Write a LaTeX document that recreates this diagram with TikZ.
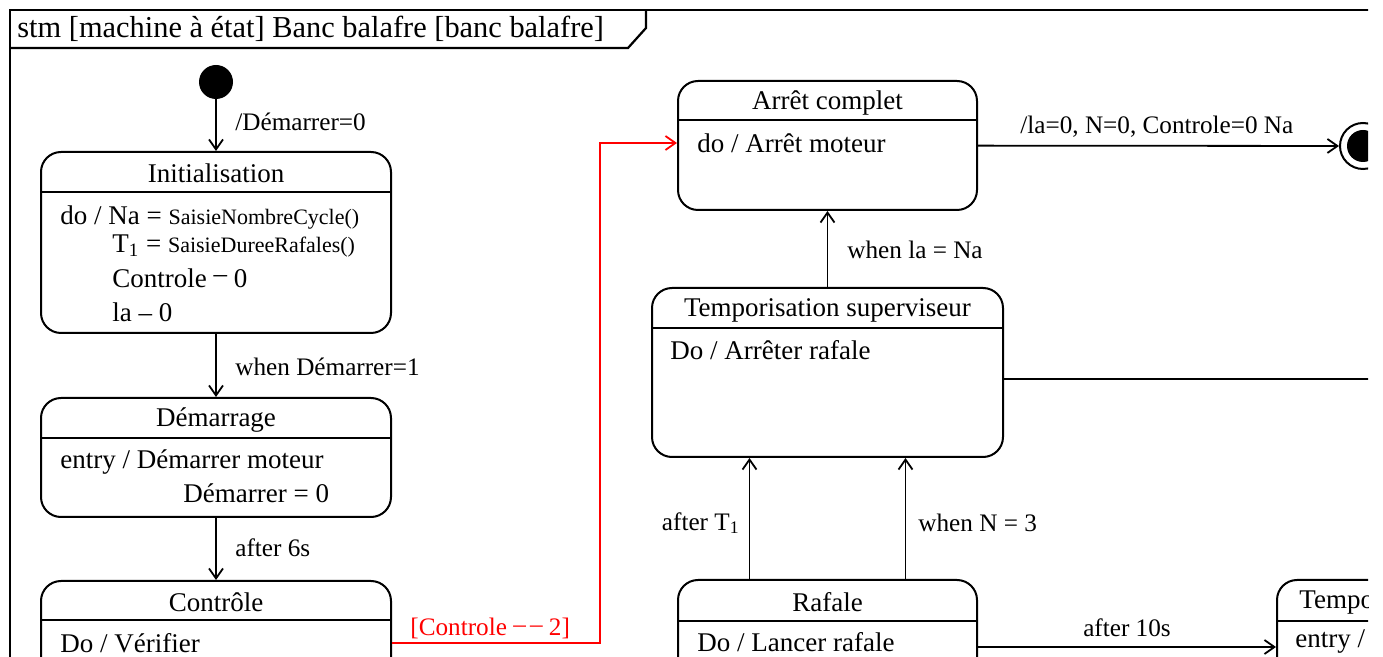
\documentclass[tikz,border=0pt]{standalone}
\usepackage{fontspec}
\setmainfont{Liberation Serif}
\usetikzlibrary{arrows.meta, fit}

\newcommand{\funcname}[1]{{\fontsize{11}{13}\selectfont #1}}

\tikzset{
  state/.style={draw, line width=1pt, rounded corners=10pt, inner sep=0pt, fit={#1}},
  divider/.style={line width=1pt},
  frame/.style={line width=1.1pt},
  trans/.style={->, line width=0.9pt},
  guard/.style={->, line width=0.9pt, red},
  body/.style={inner sep=0pt, anchor=west},
  lbl/.style={inner sep=0pt, anchor=west, font=\fontsize{12.6}{15}\selectfont},
  initial/.style={circle, fill=black, inner sep=0pt, minimum size=17pt},
  finalring/.style={circle, draw, line width=1pt, inner sep=0pt, minimum size=23pt},
  finaldot/.style={circle, fill=black, inner sep=0pt, minimum size=16pt}
}

\begin{document}
\begin{tikzpicture}[x=0.5pt, y=-0.5pt, >={Straight Barb[length=5pt, width=7pt]},
  every node/.style={font=\fontsize{13.5}{16}\selectfont}]
  \useasboundingbox (0,0) rectangle (1383,657);
  \begin{scope}
  \clip (0,0) rectangle (1368,657);

  % frame and its name tab
  \draw[frame] (10,700) -- (10,10) -- (1400,10);
  \draw[frame] (10,48) -- (628,48) -- (646,28) -- (646,10);
  \node[inner sep=0pt, anchor=west, font=\fontsize{15.2}{18}\selectfont] (name) at (17,29)
    {stm [machine à état] Banc balafre [banc balafre]};

  % pseudo states
  \node[initial] (start) at (216,82) {};
  \node[finalring] (stop) at (1363,146) {};
  \node[finaldot] (stopdot) at (stop) {};

  % states
  \node[state={(41,152) (391,333)}] (init) {};
  \draw[divider] (init.west |- 0,192) -- (init.east |- 0,192);
  \node (inittitle) at (init.north |- 0,173) {Initialisation};
  \node[body] (initdo) at (60,218) {do / Na = \funcname{SaisieNombreCycle()}};
  \node[body] (initt) at (112,246) {T\textsubscript{1} = \funcname{SaisieDureeRafales()}};
  \node[body] (initc) at (112,278) {Controle \raisebox{.35ex}{–} 0};
  \node[body] (initla) at (112,312) {la – 0};

  \node[state={(41,398) (391,517)}] (dem) {};
  \draw[divider] (dem.west |- 0,438) -- (dem.east |- 0,438);
  \node (demtitle) at (dem.north |- 0,420) {Démarrage};
  \node[body] (demdo) at (60,462) {entry / Démarrer moteur};
  \node[body] (demzero) at (183,493) {Démarrer = 0};

  \node[state={(41,581) (391,720)}] (ctrl) {};
  \draw[divider] (ctrl.west |- 0,620) -- (ctrl.east |- 0,620);
  \node (ctrltitle) at (ctrl.north |- 0,602) {Contrôle};
  \node[body] (ctrldo) at (60,643) {Do / Vérifier};

  \node[state={(678,81) (977,210)}] (arret) {};
  \draw[divider] (arret.west |- 0,120) -- (arret.east |- 0,120);
  \node (arrettitle) at (arret.north |- 0,103) {Arrêt complet};
  \node[body] (arretdo) at (697,143) {do / Arrêt moteur};

  \node[state={(652,288) (1003,457)}] (tempsup) {};
  \draw[divider] (tempsup.west |- 0,328) -- (tempsup.east |- 0,328);
  \node (tempsuptitle) at (tempsup.north |- 0,310) {Temporisation superviseur};
  \node[body] (tempsupdo) at (670,350) {Do / Arrêter rafale};

  \node[state={(678,580) (977,720)}] (rafale) {};
  \draw[divider] (rafale.west |- 0,621) -- (rafale.east |- 0,621);
  \node (rafaletitle) at (rafale.north |- 0,602) {Rafale};
  \node[body] (rafaledo) at (697,642) {Do / Lancer rafale};

  \node[state={(1277,580) (1600,720)}] (tempo) {};
  \draw[divider] (tempo.west |- 0,621) -- (tempo.east |- 0,621);
  \node[body] (tempotitle) at (1299,602) {Temporisation};
  \node[body] (tempodo) at (1295,642) {entry /};

  % transitions
  \draw[trans] (start) -- (init);
  \node[lbl] (l1) at (235,122) {/Démarrer=0};
  \draw[trans] (init) -- (dem);
  \node[lbl] (l2) at (235,367) {when Démarrer=1};
  \draw[trans] (dem) -- (ctrl);
  \node[lbl] (l3) at (235,548) {after 6s};

  \draw[guard] (ctrldo -| ctrl.east) -- ++(208,0) |- (arretdo -| arret.west);
  \node[lbl, red] (l4) at (410,628) {[Controle \raisebox{.25ex}{–\,–}\ 2]};

  \draw[trans] (arret) -- (stop);
  \node[lbl] (l5) at (1020,127) {/la=0, N=0, Controle=0 Na};

  \draw[trans] (tempsup) -- (arret);
  \node[lbl] (l6) at (847,250) {when la = Na};

  \draw[trans] ([xshift=-39pt]rafale.north) -- ([xshift=-39pt]tempsup.south);
  \node[lbl, anchor=east] (l7) at (740,523) {after T\textsubscript{1}};
  \draw[trans] ([xshift=39pt]rafale.north) -- ([xshift=39pt]tempsup.south);
  \node[lbl] (l8) at (918,523) {when N = 3};

  \draw[trans] (rafale.east |- 0,647) -- (tempo.west |- 0,647);
  \node[lbl, anchor=center] (l9) at (1127,628) {after 10s};

  \coordinate (offright) at (1400,379);
  \draw[trans, -] (tempsup.east |- offright) -- (offright);
  \end{scope}
\end{tikzpicture}
\end{document}
